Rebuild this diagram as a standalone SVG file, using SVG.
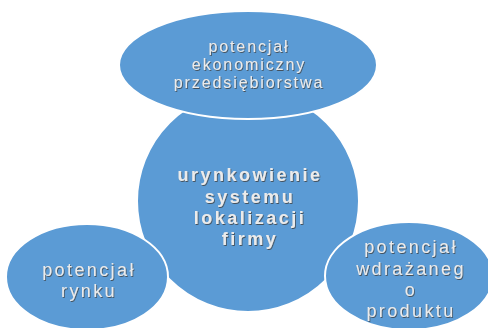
<svg xmlns="http://www.w3.org/2000/svg" width="488" height="328" viewBox="0 0 488 328">
<defs>
<filter id="sh" x="-10%" y="-10%" width="130%" height="140%">
<feDropShadow dx="0.8" dy="1" stdDeviation="0.6" flood-color="#404040" flood-opacity="0.8"/>
</filter>
<style>
.n{fill:#5b9bd5;stroke:#ffffff;stroke-width:2}
.t{font-family:"Liberation Sans","DejaVu Sans",sans-serif;fill:#ebebeb;text-anchor:middle;filter:url(#sh)}
.s{font-size:16px;letter-spacing:1.9px}
.m{font-size:18px;font-weight:bold;letter-spacing:2.5px}
.b{font-size:18px;letter-spacing:2.4px}
</style>
</defs>
<rect width="488" height="328" fill="#ffffff"/>
<g id="connectors">
<line x1="248" y1="119" x2="248" y2="124" stroke="#3a4a5a" stroke-width="1.5"/>
</g>
<g id="center">
<circle class="n" cx="248" cy="201" r="111"/>
<text class="t m" x="250" y="181">urynkowienie</text>
<text class="t m" x="250" y="203">systemu</text>
<text class="t m" x="250" y="224">lokalizacji</text>
<text class="t m" x="250" y="245">firmy</text>
</g>
<g id="top">
<ellipse class="n" cx="248" cy="65" rx="129" ry="54"/>
<text class="t s" x="249" y="52">potencjał</text>
<text class="t s" x="249" y="70">ekonomiczny</text>
<text class="t s" x="249" y="88">przedsiębiorstwa</text>
</g>
<g id="left">
<ellipse class="n" cx="87" cy="277" rx="81" ry="53"/>
<text class="t b" x="89" y="276">potencjał</text>
<text class="t b" x="89" y="297">rynku</text>
</g>
<g id="right">
<ellipse class="n" cx="409" cy="276" rx="84" ry="54"/>
<text class="t b" x="411" y="253">potencjał</text>
<text class="t b" x="411" y="275">wdrażaneg</text>
<text class="t b" x="411" y="296">o</text>
<text class="t b" x="411" y="317">produktu</text>
</g>
</svg>
